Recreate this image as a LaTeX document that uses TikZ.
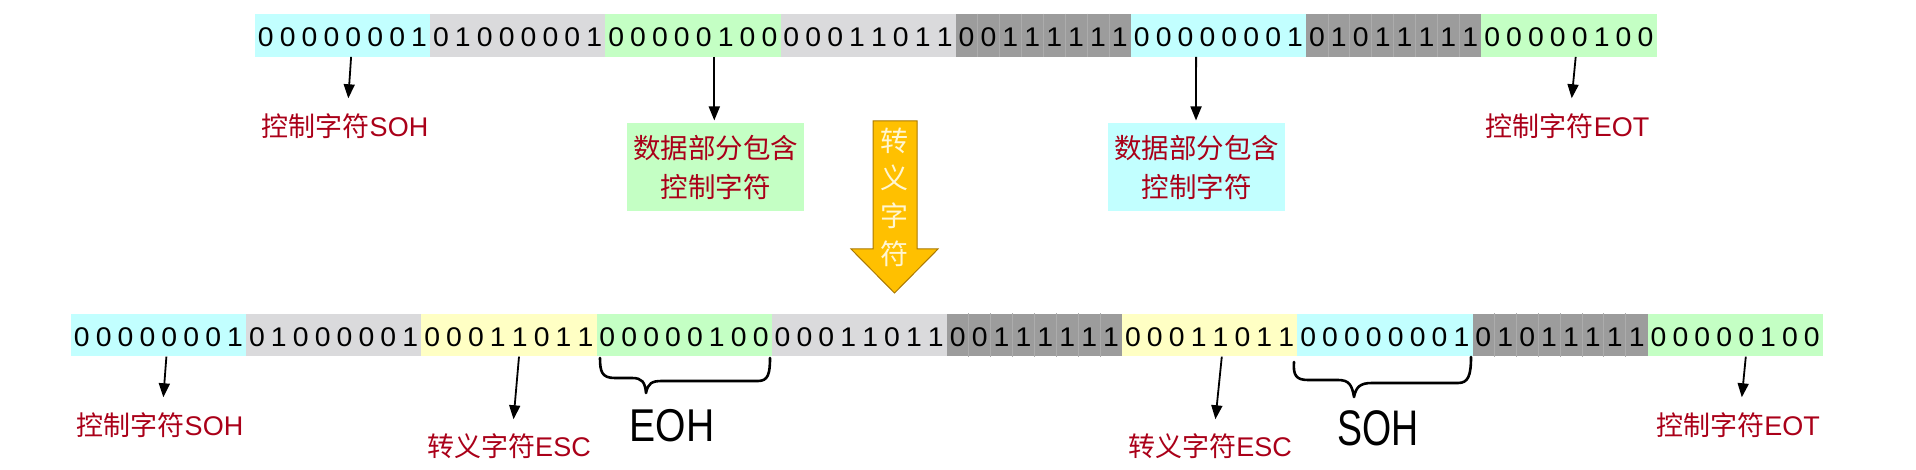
\documentclass[tikz,border=0pt]{standalone}
\usepackage{fontspec}
\setmainfont{Liberation Sans}
\newfontfamily\cjk{Noto Sans CJK SC}
\usetikzlibrary{calc,arrows.meta}
\definecolor{ccyan}{RGB}{194,255,255}
\definecolor{cgreen}{RGB}{196,255,196}
\definecolor{cyell}{RGB}{255,255,196}
\definecolor{clgray}{RGB}{218,218,220}
\definecolor{cdgray}{RGB}{156,156,156}
\definecolor{csep}{RGB}{172,172,172}
\definecolor{labred}{RGB}{170,0,25}
\definecolor{orangefill}{RGB}{255,192,0}
\definecolor{orangeedge}{RGB}{170,120,0}
\definecolor{esctext}{RGB}{255,246,210}
\tikzset{
  cell/.style={rectangle, inner sep=0pt, minimum width=175.2pt, minimum height=42.8pt, draw=none},
  digit/.style={inner sep=0pt, font=\fontsize{27}{27}\selectfont},
  sep/.style={draw=csep, line width=0.8pt},
  lab/.style={inner sep=0pt, text=labred, font=\fontsize{27}{27}\selectfont},
  labbox/.style={rectangle, inner sep=0pt, text=labred, font=\fontsize{27.5}{39}\selectfont\cjk, align=center, minimum width=177pt, minimum height=87.5pt},
  arr/.style={line width=1.8pt, -{Triangle[length=14pt,width=11pt]}},
  brace/.style={line width=2.6pt, line cap=round, line join=round},
  hand/.style={inner sep=0pt},
}
\newcommand\bytecell[5]{%
  \node[cell,fill=#4] (#1) at (#2,#3) {};
  \foreach \dg [count=\i] in {#5}
    \node[digit] (#1-\i) at ($(#1.west)+({(\i-0.5)*21.9},2)$) {\scalebox{1.05}[1]{\dg}};
}
\newcommand\darkseps[1]{%
  \foreach \k in {1,...,7}
    \draw[sep] ($(#1.north west)+({\k*21.9},0)$) -- ($(#1.south west)+({\k*21.9},0)$);
}
\begin{document}
\begin{tikzpicture}[x=1pt,y=-1pt]
\fill[white] (0,0) rectangle (1916,470);
\useasboundingbox (0,0) rectangle (1916,470);

% top row
\bytecell{t1}{342.6}{35.35}{ccyan}{0,0,0,0,0,0,0,1}
\bytecell{t2}{517.8}{35.35}{clgray}{0,1,0,0,0,0,0,1}
\bytecell{t3}{693.0}{35.35}{cgreen}{0,0,0,0,0,1,0,0}
\bytecell{t4}{868.2}{35.35}{clgray}{0,0,0,1,1,0,1,1}
\bytecell{t5}{1043.4}{35.35}{cdgray}{0,0,1,1,1,1,1,1}
\bytecell{t6}{1218.6}{35.35}{ccyan}{0,0,0,0,0,0,0,1}
\bytecell{t7}{1393.8}{35.35}{cdgray}{0,1,0,1,1,1,1,1}
\bytecell{t8}{1569.0}{35.35}{cgreen}{0,0,0,0,0,1,0,0}
\darkseps{t5}
\darkseps{t7}

% bottom row
\bytecell{b1}{158.6}{335}{ccyan}{0,0,0,0,0,0,0,1}
\bytecell{b2}{333.8}{335}{clgray}{0,1,0,0,0,0,0,1}
\bytecell{b3}{509.0}{335}{cyell}{0,0,0,1,1,0,1,1}
\bytecell{b4}{684.2}{335}{cgreen}{0,0,0,0,0,1,0,0}
\bytecell{b5}{859.4}{335}{clgray}{0,0,0,1,1,0,1,1}
\bytecell{b6}{1034.6}{335}{cdgray}{0,0,1,1,1,1,1,1}
\bytecell{b7}{1209.8}{335}{cyell}{0,0,0,1,1,0,1,1}
\bytecell{b8}{1385.0}{335}{ccyan}{0,0,0,0,0,0,0,1}
\bytecell{b9}{1560.2}{335}{cdgray}{0,1,0,1,1,1,1,1}
\bytecell{b10}{1735.4}{335}{cgreen}{0,0,0,0,0,1,0,0}
\darkseps{b6}
\darkseps{b9}

% top labels
\node[lab] (l1) at (345,126) {{\cjk 控制字符}SOH};
\node[labbox, fill=cgreen] (g1) at (715.5,167) {数据部分包含\\控制字符};
\node[labbox, fill=ccyan] (c1) at (1196.5,167) {数据部分包含\\控制字符};
\node[lab] (l2) at (1567.5,126) {{\cjk 控制字符}EOT};

\draw[arr] ($(t1.south)+(8.5,0)$) -- ($(l1.north)+(3.3,-15)$);
\draw[arr] ($(t3.south)+(21.3,0)$) -- ($(g1.north)+(-1.2,-2.6)$);
\draw[arr] ($(t6.south)+(-22.5,0)$) -- ($(c1.north)+(-0.5,-2.6)$);
\draw[arr] ($(t8.south)+(6.7,0)$) -- ($(l2.north)+(4.2,-15)$);

% escape arrow
\path[fill=orangefill, draw=orangeedge, line width=1pt]
  (873,121) -- (917,121) -- (917,249) -- (938,249) -- (894.5,293)
  -- (851,249) -- (873,249) -- cycle;
\node[inner sep=0pt, text=esctext, align=center, font=\fontsize{28}{37.7}\selectfont\cjk] (esc) at (894.5,197) {转\\义\\字\\符};

% bottom labels
\node[lab] (l3) at (160,425) {{\cjk 控制字符}SOH};
\node[lab] (l4) at (509,446) {{\cjk 转义字符}ESC};
\node[lab] (l5) at (1210,446) {{\cjk 转义字符}ESC};
\node[lab] (l6) at (1738,425) {{\cjk 控制字符}EOT};

\draw[arr] ($(b1.south)+(7.8,0)$) -- ($(l3.north)+(3.3,-15)$);
\draw[arr] ($(b3.south)+(10,0)$) -- ($(l4.north)+(4.5,-14)$);
\draw[arr] ($(b7.south)+(12,0)$) -- ($(l5.north)+(5.4,-14)$);
\draw[arr] ($(b10.south)+(10.4,0)$) -- ($(l6.north)+(3.8,-15)$);

% hand-drawn braces
\draw[brace] (600,358) .. controls (600,372) and (602,378) .. (615,378) -- (632,378)
  .. controls (642,378) and (645,382) .. (646,393)
  .. controls (648,383) and (652,381) .. (662,381) -- (758,381)
  .. controls (768,381) and (770,374) .. (770,358);
\draw[brace] (1294,362) .. controls (1293,375) and (1296,380) .. (1308,380) -- (1338,380)
  .. controls (1349,380) and (1352,385) .. (1354,397)
  .. controls (1356,387) and (1360,383) .. (1372,383) -- (1458,383)
  .. controls (1468,383) and (1471,376) .. (1471,357);
\node[hand, font=\fontsize{46}{46}\selectfont] (eoh) at (672,426) {\scalebox{0.85}[1]{EOH}};
\node[hand, font=\fontsize{50}{50}\selectfont] (soh) at (1378,428) {\scalebox{0.75}[1]{SOH}};
\end{tikzpicture}
\end{document}
